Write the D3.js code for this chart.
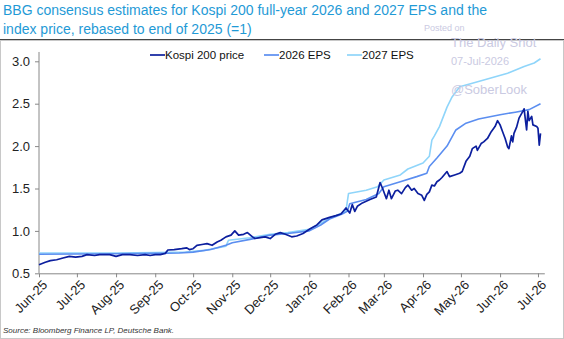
<!DOCTYPE html>
<html><head><meta charset="utf-8">
<script src="https://cdn.jsdelivr.net/npm/d3@7"></script>
<style>
html,body{margin:0;padding:0;background:#fff;}
svg{display:block;font-family:"Liberation Sans",Arial,sans-serif;}
</style></head>
<body><svg id="c" width="564" height="339"></svg>
<script>
const titleLines = ["BBG consensus estimates for Kospi 200 full-year 2026 and 2027 EPS and the",
                    "index price, rebased to end of 2025 (=1)"];
const seriesNames = ["Kospi 200 price", "2026 EPS", "2027 EPS"];
const yTicks = [0.5, 1.0, 1.5, 2.0, 2.5, 3.0];
const sourceText = "Source: Bloomberg Finance LP, Deutsche Bank.";
const watermark = ["Posted on", "The Daily Shot", "07-Jul-2026", "@SoberLook"];

const priceData = [
["2025-06-01",0.60],["2025-06-06",0.63],["2025-06-10",0.65],["2025-06-15",0.66],["2025-06-20",0.68],
["2025-06-25",0.70],["2025-06-30",0.69],["2025-07-05",0.70],["2025-07-09",0.72],["2025-07-15",0.71],
["2025-07-19",0.72],["2025-07-27",0.72],["2025-08-01",0.70],["2025-08-06",0.72],["2025-08-12",0.72],
["2025-08-18",0.71],["2025-08-24",0.72],["2025-08-28",0.71],["2025-09-01",0.72],["2025-09-05",0.72],
["2025-09-09",0.735],["2025-09-11",0.775],["2025-09-16",0.78],["2025-09-22",0.79],["2025-09-26",0.80],
["2025-09-28",0.78],["2025-10-01",0.79],["2025-10-04",0.83],["2025-10-08",0.84],["2025-10-12",0.85],
["2025-10-16",0.83],["2025-10-20",0.87],["2025-10-23",0.89],["2025-10-27",0.93],["2025-10-31",0.95],
["2025-11-03",1.00],["2025-11-06",0.95],["2025-11-10",0.96],["2025-11-13",0.98],["2025-11-17",0.93],
["2025-11-19",0.91],["2025-11-23",0.92],["2025-11-27",0.93],["2025-12-01",0.91],["2025-12-05",0.96],
["2025-12-09",0.98],["2025-12-13",0.96],["2025-12-18",0.93],["2025-12-22",0.94],["2025-12-27",0.97],
["2026-01-01",1.02],["2026-01-07",1.07],["2026-01-11",1.13],["2026-01-17",1.16],["2026-01-22",1.18],
["2026-01-26",1.20],["2026-01-30",1.27],["2026-02-02",1.21],["2026-02-04",1.31],["2026-02-06",1.23],
["2026-02-08",1.29],["2026-02-12",1.33],["2026-02-18",1.37],["2026-02-23",1.40],["2026-02-26",1.57],
["2026-02-28",1.50],["2026-03-03",1.38],["2026-03-05",1.48],["2026-03-07",1.38],["2026-03-10",1.47],
["2026-03-12",1.48],["2026-03-15",1.44],["2026-03-18",1.51],["2026-03-20",1.54],["2026-03-23",1.48],
["2026-03-25",1.50],["2026-03-28",1.44],["2026-03-31",1.42],["2026-04-02",1.36],["2026-04-04",1.43],
["2026-04-06",1.46],["2026-04-08",1.54],["2026-04-10",1.53],["2026-04-12",1.58],["2026-04-14",1.60],
["2026-04-16",1.63],["2026-04-20",1.70],["2026-04-22",1.64],["2026-04-26",1.66],["2026-04-30",1.68],
["2026-05-02",1.70],["2026-05-05",1.82],["2026-05-08",1.88],["2026-05-10",1.97],["2026-05-13",2.00],
["2026-05-14",1.95],["2026-05-17",2.03],["2026-05-19",2.05],["2026-05-22",2.09],["2026-05-25",2.17],
["2026-05-28",2.23],["2026-05-30",2.30],["2026-06-01",2.25],["2026-06-03",2.17],["2026-06-05",2.09],
["2026-06-07",1.99],["2026-06-08",1.97],["2026-06-10",2.12],["2026-06-11",2.05],["2026-06-12",2.15],
["2026-06-14",2.22],["2026-06-16",2.33],["2026-06-19",2.41],["2026-06-20",2.44],["2026-06-22",2.19],
["2026-06-23",2.41],["2026-06-24",2.30],["2026-06-26",2.35],["2026-06-27",2.25],["2026-06-30",2.23],
["2026-07-01",2.21],["2026-07-02",2.01],["2026-07-03",2.15]
];

const eps2026Data = [
["2025-06-01",0.725],["2025-07-01",0.728],["2025-08-01",0.73],["2025-09-01",0.735],["2025-09-20",0.74],
["2025-10-01",0.75],["2025-10-15",0.78],["2025-10-27",0.83],["2025-11-01",0.86],["2025-11-15",0.90],
["2025-12-01",0.95],["2025-12-15",0.97],["2026-01-01",1.00],["2026-01-10",1.07],["2026-01-17",1.14],
["2026-01-27",1.20],["2026-01-31",1.23],["2026-02-02",1.32],["2026-02-15",1.37],["2026-02-25",1.44],
["2026-03-01",1.52],["2026-03-14",1.58],["2026-03-27",1.64],["2026-04-04",1.68],["2026-04-06",1.76],
["2026-04-12",1.86],["2026-04-16",1.93],["2026-04-20",2.00],["2026-04-27",2.19],["2026-05-05",2.27],
["2026-05-15",2.32],["2026-06-01",2.37],["2026-06-13",2.40],["2026-06-24",2.43],["2026-07-03",2.50]
];

const eps2027Data = [
["2025-06-01",0.74],["2025-08-01",0.74],["2025-09-01",0.745],["2025-09-25",0.75],["2025-10-10",0.77],
["2025-10-27",0.82],["2025-10-29",0.89],["2025-11-15",0.92],["2025-12-01",0.96],["2025-12-15",0.98],
["2026-01-01",1.02],["2026-01-10",1.09],["2026-01-17",1.15],["2026-01-27",1.21],["2026-01-30",1.24],
["2026-02-01",1.44],["2026-02-15",1.48],["2026-02-24",1.52],["2026-03-01",1.60],["2026-03-14",1.66],
["2026-03-20",1.73],["2026-04-01",1.80],["2026-04-06",1.88],["2026-04-08",2.07],["2026-04-10",2.12],
["2026-04-14",2.23],["2026-04-20",2.46],["2026-04-24",2.58],["2026-04-30",2.70],["2026-05-10",2.74],
["2026-05-24",2.80],["2026-06-07",2.86],["2026-06-20",2.94],["2026-06-28",2.98],["2026-07-03",3.03]
];

const colors = ["#0c1f9e", "#5b8ef0", "#8fd5fa"];
const parse = d3.timeParse("%Y-%m-%d");
const svg = d3.select("#c");

// frame
svg.append("rect").attr("x",0.5).attr("y",40.5).attr("width",563).attr("height",298)
  .attr("fill","none").attr("stroke","#c8c8c8");
svg.append("line").attr("x1",0).attr("x2",564).attr("y1",39.5).attr("y2",39.5)
  .attr("stroke","#444").attr("stroke-width",1.2);

// title
svg.selectAll("text.title").data(titleLines).enter().append("text")
  .attr("x",3).attr("y",(d,i)=>15+i*19).attr("fill","#1f9ad6")
  .style("font-size","14px").text(d=>d);

const x = d3.scaleTime().domain([parse("2025-06-01"), parse("2026-07-06")]).range([39, 544.3]);
const y = d3.scaleLinear().domain([0.5, 3.0]).range([273.3, 61.3]);

// y axis
const ya = svg.append("g").attr("transform","translate(39,0)")
  .call(d3.axisLeft(y).tickValues(yTicks).tickFormat(d3.format(".1f")).tickSize(4).tickPadding(5));
ya.select(".domain").attr("d", `M0,${y(0.5)}V${y(3.11)}`);
ya.selectAll("path,line").attr("stroke","#888");
ya.selectAll("text").attr("fill","#222").style("font-size","13px").style("font-family","Liberation Sans, Arial, sans-serif");

// x axis
const xa = svg.append("g").attr("transform",`translate(0,${y(0.5)})`)
  .call(d3.axisBottom(x).ticks(d3.timeMonth.every(1)).tickFormat(d3.timeFormat("%b-%y")).tickSize(4).tickSizeOuter(0));
xa.selectAll("path,line").attr("stroke","#888");
xa.selectAll("text").attr("fill","#222").style("font-size","13px").style("font-family","Liberation Sans, Arial, sans-serif")
  .attr("text-anchor","end").attr("dx","-0.2em").attr("dy","0.6em")
  .attr("transform","rotate(-45)");

// lines
const line = d3.line().x(d=>x(parse(d[0]))).y(d=>y(d[1]));
[[eps2027Data,2],[eps2026Data,1],[priceData,0]].forEach(([data,ci])=>{
  svg.append("path").datum(data).attr("d",line).attr("fill","none")
    .attr("stroke",colors[ci]).attr("stroke-width",ci===0?1.7:1.6).attr("stroke-linejoin","round");
});

// legend
const legX = [150, 264, 347];
seriesNames.forEach((n,i)=>{
  svg.append("line").attr("x1",legX[i]).attr("x2",legX[i]+15).attr("y1",55).attr("y2",55)
    .attr("stroke",colors[i]).attr("stroke-width",1.7);
  svg.append("text").attr("x",legX[i]+15).attr("y",59).attr("fill","#111")
    .style("font-size","11.5px").text(n);
});

// watermark
const wm = svg.append("g").attr("fill","#cacae2");
wm.append("text").attr("x",424).attr("y",31).style("font-size","9px").text(watermark[0]);
wm.append("text").attr("x",451).attr("y",47).style("font-size","13px").text(watermark[1]);
wm.append("text").attr("x",451).attr("y",65).style("font-size","11px").text(watermark[2]);
wm.append("text").attr("x",451).attr("y",94).style("font-size","13px").text(watermark[3]);

// source
svg.append("text").attr("x",3).attr("y",333).attr("fill","#333")
  .style("font-size","8px").style("font-style","italic").text(sourceText);
</script></body></html>
